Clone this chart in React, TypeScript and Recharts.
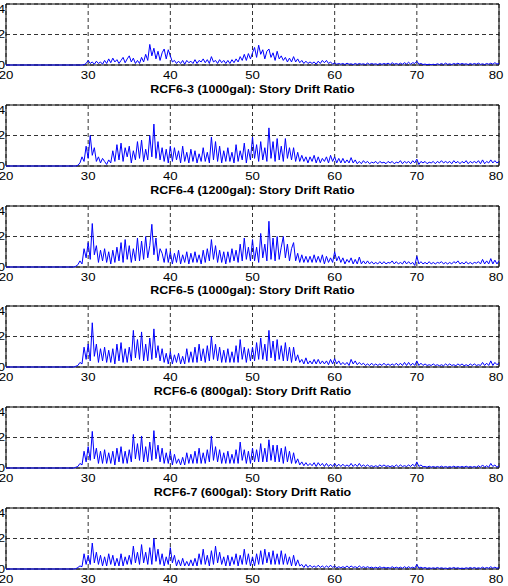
import {
  LineChart,
  Line,
  XAxis,
  YAxis,
  CartesianGrid,
  ReferenceArea,
} from "recharts";

// sampled every 0.25 s starting at t = 28 s (before that the drift is zero)
const START = 28;
const STEP = 0.25;

const X_TICKS = [20, 30, 40, 50, 60, 70, 80];
const Y_TICKS = [0, 2, 4];

const TITLES = [
  "",
  "RCF6-3 (1000gal): Story Drift Ratio",
  "RCF6-4 (1200gal): Story Drift Ratio",
  "RCF6-5 (1000gal): Story Drift Ratio",
  "RCF6-6 (800gal): Story Drift Ratio",
  "RCF6-7 (600gal): Story Drift Ratio",
];

const drift1 = [
  0, 0, 0, 0, 0, 0, 0.02, 0.1,
  0.3, 0.1, 0.2, 0.05, 0.25, 0.1, 0.2, 0.05,
  0.3, 0.1, 0.4, 0.15, 0.45, 0.2, 0.35, 0.1,
  0.3, 0.5, 0.15, 0.4, 0.6, 0.2, 0.45, 0.1,
  0.3, 0.1, 0.5, 0.2, 0.7, 0.3, 1.35, 0.6,
  1.1, 0.4, 0.9, 0.3, 0.8, 1.05, 0.4, 1.0,
  0.6, 0.2, 0.3, 0.1, 0.25, 0.1, 0.3, 0.05,
  0.3, 0.15, 0.25, 0.1, 0.35, 0.1, 0.3, 0.2,
  0.4, 0.15, 0.35, 0.1, 0.55, 0.2, 0.3, 0.1,
  0.35, 0.15, 0.3, 0.1, 0.3, 0.1, 0.35, 0.15,
  0.4, 0.2, 0.55, 0.3, 0.7, 0.3, 0.75, 0.4,
  0.8, 1.15, 0.5, 1.3, 0.7, 1.0, 0.4, 0.9,
  1.05, 0.5, 0.8, 0.3, 0.9, 0.4, 0.6, 0.3,
  0.5, 0.2, 0.45, 0.2, 0.55, 0.2, 0.4, 0.15,
  0.3, 0.1, 0.25, 0.1, 0.2, 0.1, 0.2, 0.05,
  0.25, 0.1, 0.3, 0.15, 0.3, 0.1, 0.2, 0.05,
  0.15, 0.05, 0.1, 0.05, 0.1, 0.03, 0.12, 0.05,
  0.08, 0.03, 0.1, 0.04, 0.1, 0.05, 0.08, 0.03,
  0.12, 0.04, 0.1, 0.05, 0.08, 0.03, 0.1, 0.04,
  0.1, 0.05, 0.12, 0.03, 0.15, 0.05, 0.1, 0.04,
  0.12, 0.05, 0.15, 0.06, 0.18, 0.05, 0.15, 0.1,
  0.25, 0.05, 0.1, 0.03, 0.06, 0.02, 0.05, 0.02,
  0.05, 0.02, 0.08, 0.03, 0.1, 0.03, 0.12, 0.04,
  0.08, 0.03, 0.1, 0.05, 0.12, 0.04, 0.1, 0.05,
  0.08, 0.03, 0.1, 0.04, 0.1, 0.05, 0.12, 0.04,
  0.08, 0.03, 0.1, 0.05, 0.12, 0.05, 0.15, 0.06,
  0.1,
];

const drift2 = [
  0, 0, 0, 0.05, 0.2, 0.6, 0.3, 1.3,
  0.5, 2.0, 0.7, 1.2, 0.3, 0.6, 0.2, 0.5,
  0.3, 0.1, 0.4, 0.2, 1.0, 0.3, 1.4, 0.4,
  1.5, 0.3, 1.2, 0.6, 1.3, 0.2, 1.0, 0.4,
  1.6, 0.5, 1.7, 0.3, 1.1, 0.4, 2.0, 0.6,
  2.75, 0.5, 1.6, 0.4, 1.2, 0.3, 1.1, 0.2,
  1.3, 0.3, 1.2, 0.4, 1.0, 0.2, 1.3, 0.3,
  0.9, 0.2, 1.1, 0.3, 1.0, 0.2, 0.8, 0.3,
  1.2, 0.3, 0.9, 0.2, 1.9, 0.4, 1.6, 0.3,
  1.3, 0.2, 1.0, 0.3, 1.2, 0.3, 0.9, 0.2,
  1.4, 0.3, 1.0, 0.4, 1.5, 0.2, 1.1, 0.4,
  1.9, 0.5, 1.4, 0.3, 1.6, 0.4, 1.2, 0.3,
  2.5, 0.5, 1.6, 0.3, 1.8, 0.4, 1.3, 0.3,
  1.8, 0.5, 1.2, 0.4, 1.2, 0.3, 0.9, 0.3,
  0.7, 0.3, 0.6, 0.2, 0.6, 0.3, 0.7, 0.2,
  0.6, 0.2, 0.5, 0.3, 0.6, 0.2, 0.7, 0.3,
  0.6, 0.2, 0.5, 0.2, 0.5, 0.2, 0.4, 0.2,
  0.55, 0.2, 0.4, 0.15, 0.3, 0.15, 0.35, 0.2,
  0.3, 0.15, 0.25, 0.2, 0.3, 0.15, 0.3, 0.2,
  0.25, 0.15, 0.3, 0.2, 0.3, 0.15, 0.25, 0.2,
  0.35, 0.15, 0.3, 0.2, 0.3, 0.15, 0.35, 0.2,
  0.45, 0.1, 0.3, 0.2, 0.3, 0.15, 0.25, 0.2,
  0.3, 0.15, 0.3, 0.2, 0.35, 0.2, 0.3, 0.2,
  0.3, 0.15, 0.35, 0.2, 0.3, 0.15, 0.3, 0.2,
  0.35, 0.15, 0.3, 0.2, 0.3, 0.2, 0.35, 0.15,
  0.4, 0.15, 0.3, 0.2, 0.4, 0.2, 0.35, 0.2,
  0.3,
];

const drift3 = [
  0, 0, 0.05, 0.15, 0.4, 0.2, 1.2, 0.6,
  1.6, 0.5, 2.85, 0.8, 1.4, 0.3, 1.1, 0.4,
  1.2, 0.3, 1.0, 0.2, 1.1, 0.3, 1.3, 0.4,
  1.6, 0.3, 1.8, 0.5, 1.4, 0.3, 1.2, 0.4,
  1.9, 0.4, 1.7, 0.5, 2.0, 0.6, 1.4, 2.8,
  0.8, 1.9, 0.4, 1.2, 0.9, 0.3, 1.2, 0.3,
  1.0, 0.2, 0.9, 0.3, 1.1, 0.2, 0.8, 0.3,
  1.0, 0.2, 0.9, 0.3, 1.0, 0.3, 0.8, 0.2,
  1.1, 0.3, 1.2, 0.4, 1.8, 0.5, 1.4, 0.3,
  1.1, 0.3, 1.0, 0.2, 1.0, 0.3, 1.2, 0.4,
  1.1, 0.3, 1.5, 0.4, 1.9, 0.5, 1.3, 0.4,
  1.8, 0.4, 1.3, 0.3, 2.2, 0.6, 1.5, 0.4,
  3.0, 0.5, 1.9, 0.4, 2.0, 0.5, 1.3, 2.0,
  0.6, 1.5, 0.4, 1.2, 1.6, 0.4, 0.9, 0.3,
  0.8, 0.3, 0.7, 0.3, 0.7, 0.3, 0.8, 0.3,
  0.7, 0.3, 0.8, 0.2, 0.7, 0.3, 0.6, 0.3,
  1.0, 0.4, 0.7, 0.3, 0.6, 0.2, 0.5, 0.3,
  0.6, 0.2, 0.5, 0.2, 0.65, 0.2, 0.4, 0.2,
  0.4, 0.2, 0.35, 0.2, 0.3, 0.2, 0.35, 0.2,
  0.35, 0.2, 0.3, 0.25, 0.4, 0.2, 0.35, 0.2,
  0.3, 0.2, 0.4, 0.2, 0.35, 0.2, 0.3, 0.1,
  0.7, 0.2, 0.35, 0.2, 0.3, 0.2, 0.35, 0.2,
  0.3, 0.2, 0.3, 0.25, 0.35, 0.2, 0.3, 0.2,
  0.3, 0.2, 0.35, 0.25, 0.4, 0.2, 0.3, 0.2,
  0.35, 0.2, 0.3, 0.2, 0.3, 0.25, 0.35, 0.2,
  0.5, 0.2, 0.4, 0.2, 0.55, 0.2, 0.45, 0.2,
  0.4,
];

const drift4 = [
  0, 0, 0.05, 0.1, 0.3, 0.2, 1.3, 0.5,
  1.5, 0.4, 2.9, 0.7, 1.5, 0.3, 1.2, 0.4,
  1.3, 0.3, 1.1, 0.3, 1.2, 0.2, 1.5, 0.4,
  1.6, 0.3, 1.2, 0.3, 1.3, 0.4, 2.4, 0.6,
  1.8, 0.5, 2.3, 0.4, 1.5, 0.4, 1.9, 0.5,
  2.5, 0.6, 1.4, 0.4, 1.2, 0.3, 0.9, 0.2,
  1.0, 0.2, 0.8, 0.3, 0.9, 0.2, 0.7, 0.2,
  1.2, 0.3, 1.0, 0.3, 1.3, 0.3, 1.5, 0.4,
  1.2, 0.3, 1.4, 0.4, 2.0, 0.5, 1.5, 0.4,
  1.3, 0.3, 1.1, 0.3, 1.2, 0.3, 1.0, 0.3,
  1.4, 0.3, 1.8, 0.5, 1.3, 0.3, 1.2, 0.4,
  1.3, 0.4, 1.6, 0.5, 1.9, 0.5, 1.5, 0.4,
  2.4, 0.6, 1.7, 0.4, 1.8, 0.5, 1.4, 0.4,
  1.6, 0.4, 1.3, 0.3, 1.3, 0.4, 0.8, 0.3,
  0.5, 0.2, 0.6, 0.2, 0.4, 0.2, 0.5, 0.2,
  0.5, 0.2, 0.4, 0.2, 0.4, 0.15, 0.5, 0.2,
  0.55, 0.2, 0.4, 0.15, 0.3, 0.15, 0.3, 0.1,
  0.5, 0.2, 0.4, 0.15, 0.3, 0.15, 0.25, 0.1,
  0.2, 0.1, 0.25, 0.1, 0.2, 0.1, 0.2, 0.1,
  0.25, 0.1, 0.2, 0.1, 0.2, 0.1, 0.25, 0.1,
  0.25, 0.1, 0.3, 0.1, 0.3, 0.1, 0.25, 0.1,
  0.4, 0.1, 0.25, 0.1, 0.2, 0.1, 0.15, 0.1,
  0.2, 0.1, 0.15, 0.08, 0.15, 0.08, 0.2, 0.1,
  0.2, 0.1, 0.15, 0.08, 0.2, 0.1, 0.2, 0.08,
  0.15, 0.08, 0.2, 0.1, 0.2, 0.1, 0.15, 0.1,
  0.3, 0.1, 0.25, 0.1, 0.4, 0.1, 0.3, 0.15,
  0.25,
];

const drift5 = [
  0, 0, 0.05, 0.1, 0.3, 0.2, 1.1, 0.4,
  1.4, 0.5, 2.4, 0.6, 1.3, 0.3, 1.1, 0.3,
  1.2, 0.3, 1.0, 0.3, 1.1, 0.2, 1.3, 0.4,
  1.4, 0.3, 1.1, 0.3, 1.2, 0.4, 2.2, 0.6,
  1.6, 0.5, 2.1, 0.4, 1.4, 0.4, 1.7, 0.5,
  2.45, 0.6, 1.5, 0.4, 1.3, 0.3, 1.0, 0.3,
  1.1, 0.2, 0.9, 0.3, 0.6, 0.2, 0.7, 0.2,
  1.0, 0.3, 0.9, 0.3, 1.1, 0.3, 1.3, 0.3,
  1.0, 0.3, 1.2, 0.4, 2.1, 0.5, 1.4, 0.4,
  1.2, 0.3, 1.0, 0.3, 1.1, 0.3, 0.9, 0.3,
  1.2, 0.3, 1.7, 0.5, 1.2, 0.3, 1.1, 0.3,
  1.3, 0.4, 1.2, 0.4, 1.6, 0.4, 1.3, 0.4,
  1.85, 0.5, 1.5, 0.4, 1.5, 0.4, 1.3, 0.3,
  1.4, 0.4, 1.1, 0.3, 1.0, 0.3, 0.6, 0.2,
  0.4, 0.15, 0.35, 0.15, 0.3, 0.15, 0.35, 0.1,
  0.35, 0.15, 0.3, 0.1, 0.3, 0.1, 0.25, 0.1,
  0.3, 0.1, 0.25, 0.1, 0.25, 0.1, 0.2, 0.1,
  0.3, 0.1, 0.25, 0.1, 0.3, 0.1, 0.2, 0.1,
  0.2, 0.1, 0.15, 0.08, 0.15, 0.08, 0.2, 0.1,
  0.2, 0.1, 0.15, 0.08, 0.15, 0.08, 0.2, 0.08,
  0.2, 0.1, 0.15, 0.1, 0.2, 0.1, 0.25, 0.1,
  0.4, 0.1, 0.2, 0.08, 0.1, 0.05, 0.12, 0.05,
  0.1, 0.05, 0.1, 0.05, 0.12, 0.05, 0.1, 0.05,
  0.1, 0.05, 0.12, 0.05, 0.1, 0.05, 0.1, 0.05,
  0.12, 0.05, 0.1, 0.05, 0.1, 0.05, 0.15, 0.05,
  0.2, 0.05, 0.15, 0.05, 0.3, 0.1, 0.2, 0.05,
  0.15,
];

const drift6 = [
  0, 0, 0.02, 0.1, 0.2, 0.15, 1.0, 0.3,
  0.9, 0.3, 1.7, 0.4, 1.1, 0.3, 0.9, 0.2,
  0.8, 0.2, 1.0, 0.3, 0.9, 0.2, 0.7, 0.2,
  1.0, 0.2, 0.8, 0.3, 0.9, 0.3, 1.5, 0.4,
  1.1, 0.3, 1.6, 0.4, 1.1, 0.3, 1.4, 0.3,
  2.0, 0.5, 1.3, 0.3, 1.0, 0.2, 0.8, 0.3,
  1.4, 0.4, 0.9, 0.2, 0.6, 0.2, 0.7, 0.2,
  0.5, 0.2, 0.6, 0.2, 0.7, 0.2, 1.0, 0.3,
  1.3, 0.3, 0.9, 0.2, 1.2, 0.3, 1.5, 0.4,
  1.1, 0.3, 0.8, 0.2, 0.9, 0.2, 0.8, 0.3,
  1.0, 0.2, 0.9, 0.3, 1.3, 0.3, 1.0, 0.2,
  0.8, 0.2, 1.0, 0.3, 1.2, 0.3, 1.3, 0.4,
  1.1, 0.3, 1.2, 0.3, 1.0, 0.3, 1.2, 0.3,
  1.0, 0.3, 0.8, 0.2, 0.9, 0.2, 0.6, 0.2,
  0.3, 0.1, 0.3, 0.1, 0.25, 0.1, 0.2, 0.1,
  0.25, 0.1, 0.2, 0.08, 0.2, 0.1, 0.25, 0.1,
  0.2, 0.08, 0.15, 0.08, 0.15, 0.08, 0.2, 0.08,
  0.2, 0.1, 0.15, 0.08, 0.2, 0.08, 0.15, 0.08,
  0.15, 0.08, 0.12, 0.06, 0.12, 0.06, 0.15, 0.06,
  0.12, 0.06, 0.1, 0.05, 0.15, 0.06, 0.12, 0.06,
  0.12, 0.05, 0.15, 0.06, 0.15, 0.06, 0.12, 0.05,
  0.3, 0.06, 0.12, 0.05, 0.1, 0.04, 0.08, 0.04,
  0.08, 0.04, 0.1, 0.04, 0.08, 0.04, 0.06, 0.03,
  0.08, 0.04, 0.1, 0.04, 0.08, 0.03, 0.06, 0.03,
  0.08, 0.04, 0.1, 0.04, 0.1, 0.04, 0.08, 0.04,
  0.12, 0.04, 0.1, 0.05, 0.15, 0.05, 0.12, 0.05,
  0.1,
];

const SERIES = [drift1, drift2, drift3, drift4, drift5, drift6];

const FONT = "'Liberation Sans', Arial, sans-serif";
// the source picture is stretched sideways, so text is widened a bit
const STRETCH = 1.2;
const PLOT_H = 61;
const PANEL_TOPS = [4, 105, 206, 306, 407, 508];

const toRows = (vals: number[]) => [
  { t: 20, v: 0 },
  ...vals.map((v, i) => ({ t: START + i * STEP, v })),
];

const XTick = ({ x, y, payload }: any) => (
  <g transform={`translate(${x},${y}) scale(${STRETCH},1)`}>
    <text x={0} y={0} dy="0.71em" textAnchor="middle" fontSize={11} fontFamily={FONT} fill="#000">
      {payload.value}
    </text>
  </g>
);

const YTick = ({ x, y, payload }: any) => (
  <g transform={`translate(${x},${y}) scale(${STRETCH},1)`}>
    <text x={0} y={0} dy="0.355em" textAnchor="end" fontSize={11} fontFamily={FONT} fill="#000">
      {payload.value}
    </text>
  </g>
);

const Panel = ({ vals, top }: { vals: number[]; top: number }) => (
  <div style={{ position: "absolute", left: -30, top: top - 4 }}>
    <LineChart
      width={534}
      height={PLOT_H + 24}
      data={toRows(vals)}
      margin={{ top: 4, right: 5, left: 0, bottom: 0 }}
    >
      <CartesianGrid stroke="#333" strokeDasharray="4 3" />
      <XAxis
        dataKey="t"
        type="number"
        domain={[20, 80]}
        ticks={X_TICKS}
        height={20}
        axisLine={false}
        tickLine={false}
        tickSize={0}
        tickMargin={6}
        tick={<XTick />}
      />
      <YAxis
        type="number"
        domain={[0, 4]}
        ticks={Y_TICKS}
        width={36}
        axisLine={false}
        tickLine={false}
        tickSize={0}
        tickMargin={1}
        tick={<YTick />}
      />
      <Line
        type="linear"
        dataKey="v"
        stroke="#0000ff"
        strokeWidth={1}
        dot={false}
        isAnimationActive={false}
      />
      <ReferenceArea x1={20} x2={80} y1={0} y2={4} fill="none" stroke="#000" strokeWidth={1} />
    </LineChart>
  </div>
);

export default function App() {
  return (
    <div
      style={{
        position: "absolute",
        left: 0,
        top: 0,
        width: 508,
        height: 586,
        overflow: "hidden",
        background: "#fff",
      }}
    >
      {SERIES.map((vals, i) => (
        <Panel key={i} vals={vals} top={PANEL_TOPS[i]} />
      ))}
      {TITLES.map((title, i) =>
        title ? (
          <div
            key={i}
            style={{
              position: "absolute",
              left: 6,
              width: 493,
              top: PANEL_TOPS[i] - 22,
              height: 14,
              lineHeight: "14px",
              textAlign: "center",
              fontFamily: FONT,
              fontWeight: "bold",
              fontSize: 10.4,
              color: "#000",
              transform: `scaleX(${STRETCH})`,
            }}
          >
            {title}
          </div>
        ) : null
      )}
    </div>
  );
}
